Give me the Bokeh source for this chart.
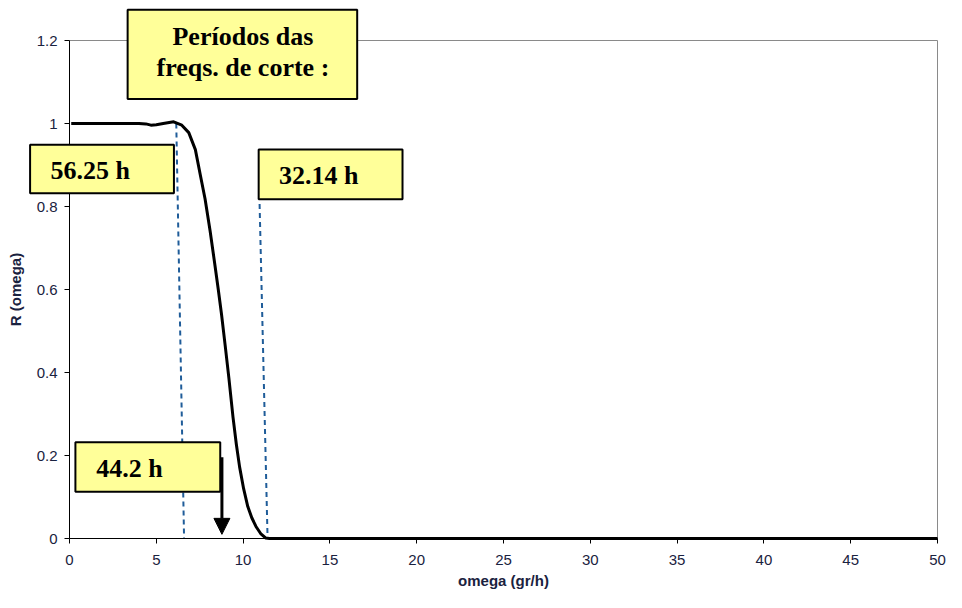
from bokeh.plotting import figure
from bokeh.models import (Range1d, BoxAnnotation, Label, Arrow, NormalHead, FixedTicker,
                          LinearAxis)
from bokeh.embed import file_html
from bokeh.resources import INLINE

# ---- data ----
omega = [0.1, 1, 2, 3, 4, 4.4, 4.69, 5.0, 5.4, 6.0, 6.47, 6.87, 7.25, 7.53, 7.81, 8.10,
         8.38, 8.57, 8.76, 8.97, 9.18, 9.42, 9.61, 9.80, 10.03, 10.27, 10.50, 10.74,
         11.01, 11.31, 11.52, 15, 20, 25, 30, 35, 40, 45, 50]
R = [1.0, 1.0, 1.0, 1.0, 1.0, 0.999, 0.996, 0.997, 1.0, 1.004, 0.996, 0.978, 0.937,
     0.877, 0.818, 0.741, 0.658, 0.600, 0.539, 0.464, 0.387, 0.292, 0.227, 0.172,
     0.120, 0.077, 0.050, 0.029, 0.012, 0.001, 0.0, 0, 0, 0, 0, 0, 0, 0, 0]

# cutoff marker lines (slightly slanted in the original)
cut1_x = [6.15, 6.6]
cut1_y = [1.0, 0.0]
cut2_x = [10.95, 11.41]
cut2_y = [0.806, 0.0]
arrow_x = 8.78
arrow_y = [0.196, 0.01]

x_ticks = [0, 5, 10, 15, 20, 25, 30, 35, 40, 45, 50]
y_ticks = [0, 0.2, 0.4, 0.6, 0.8, 1.0, 1.2]
y_tick_labels = {0: "0", 0.2: "0.2", 0.4: "0.4", 0.6: "0.6", 0.8: "0.8", 1.0: "1", 1.2: "1.2"}

title_lines = ["Períodos das", "freqs. de corte :"]
period_labels = ["56.25 h", "32.14 h", "44.2 h"]

# ---- layout: the frame covers the whole canvas, axes sit at x=0 / y=0 ----
W, H = 946, 592
left_px, right_px, top_px, bottom_px = 69, 937, 40, 538
xmin, xmax = x_ticks[0], x_ticks[-1]
ymin, ymax = y_ticks[0], y_ticks[-1]
sx = (right_px - left_px) / (xmax - xmin)
sy = (bottom_px - top_px) / (ymax - ymin)
x_range = Range1d(xmin - left_px / sx, xmax + (W - right_px) / sx)
y_range = Range1d(ymin - (H - bottom_px) / sy, ymax + top_px / sy)

# annotation placement measured in reference pixels -> data units
def ax_(px):
    return (px - 69) / (950 - 69) * (xmax - xmin)
def ay_(py):
    return (542 - py) / (542 - 40) * (ymax - ymin)

p = figure(width=W, height=H, output_backend="svg", toolbar_location=None,
           x_range=x_range, y_range=y_range,
           x_axis_location=None, y_axis_location=None,
           min_border=0, min_border_left=0, min_border_right=0,
           min_border_top=0, min_border_bottom=0)
p.outline_line_color = None
p.xgrid.visible = False
p.ygrid.visible = False
p.background_fill_color = "white"
p.border_fill_color = "white"

tick_font = "Liberation Sans"
xax = LinearAxis(fixed_location=0, bounds=(xmin, xmax))
yax = LinearAxis(fixed_location=0, bounds=(ymin, ymax))
for ax in (xax, yax):
    ax.axis_line_color = "black"
    ax.axis_line_width = 1
    ax.major_tick_line_color = "black"
    ax.major_tick_out = 5
    ax.major_tick_in = 0
    ax.minor_tick_line_color = None
    ax.major_label_text_font = tick_font
    ax.major_label_text_font_size = "15px"
    ax.major_label_text_color = "#1a2240"
    ax.axis_label_text_font = tick_font
    ax.axis_label_text_font_style = "bold"
    ax.axis_label_text_font_size = "15px"
    ax.axis_label_text_color = "#1a2240"
xax.ticker = FixedTicker(ticks=x_ticks)
yax.ticker = FixedTicker(ticks=y_ticks)
yax.major_label_overrides = y_tick_labels
xax.axis_label = "omega (gr/h)"
yax.axis_label = "R (omega)"
xax.major_label_standoff = 11
xax.axis_label_standoff = 4
yax.major_label_standoff = 7
yax.axis_label_standoff = 10
p.add_layout(xax, "below")
p.add_layout(yax, "left")

# gray plot-area border (top and right)
p.line([xmin, xmax, xmax], [ymax, ymax, ymin], line_color="#8a8a8a", line_width=1)

# dashed cutoff lines
dash_col = "#1f5c99"
p.line(cut1_x, cut1_y, line_color=dash_col, line_width=2, line_dash="5 4")
p.line(cut2_x, cut2_y, line_color=dash_col, line_width=2, line_dash="5 4")

# response curve
p.line(omega, R, line_color="black", line_width=3, line_join="round")

# boxes (reference pixel edges: left, right, top, bottom)
box_fill = "#FFFF99"
def box(l, r, t, b):
    p.add_layout(BoxAnnotation(left=ax_(l), right=ax_(r), top=ay_(t), bottom=ay_(b),
                               fill_color=box_fill, fill_alpha=1, line_color="black",
                               line_width=2, line_alpha=1))

box(128, 361, 9, 99)
box(29, 175, 145, 194)
box(261, 407, 150, 200)
box(75, 222, 445, 495)

# arrow
p.add_layout(Arrow(end=NormalHead(size=16, fill_color="black", line_color="black"),
                   x_start=arrow_x, y_start=arrow_y[0], x_end=arrow_x, y_end=arrow_y[1],
                   line_color="black", line_width=3))

serif = "Liberation Serif"
lift = 9 / sy  # baseline correction in data units
def lab(cx, base, t):
    p.add_layout(Label(x=ax_(cx), y=ay_(base) + lift, text=t, text_align="center",
                       text_baseline="alphabetic", text_font=serif,
                       text_font_style="bold", text_font_size="26px", text_color="black"))

lab(245, 45, title_lines[0])
lab(245, 76, title_lines[1])
lab(90, 180, period_labels[0])
lab(322, 185, period_labels[1])
lab(130, 481, period_labels[2])

open("out.html", "w").write(file_html(p, INLINE))
